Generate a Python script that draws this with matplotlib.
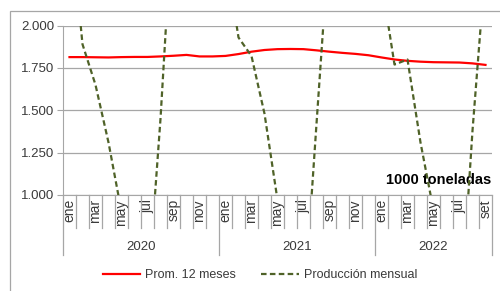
import numpy as np
import matplotlib
matplotlib.use('Agg')
import matplotlib.pyplot as plt
from matplotlib import transforms
from matplotlib.patches import Rectangle

# datos (ene 2020 - set 2022), miles de toneladas
meses = ['ene', 'feb', 'mar', 'abr', 'may', 'jun', 'jul', 'ago', 'sep', 'oct', 'nov', 'dic',
         'ene', 'feb', 'mar', 'abr', 'may', 'jun', 'jul', 'ago', 'sep', 'oct', 'nov', 'dic',
         'ene', 'feb', 'mar', 'abr', 'may', 'jun', 'jul', 'ago', 'set']
anios = ['2020', '2021', '2022']
meses_por_anio = [12, 12, 9]

prom12 = [1.814, 1.814, 1.813, 1.812, 1.814, 1.815, 1.815, 1.818, 1.822, 1.827, 1.818, 1.818,
          1.821, 1.832, 1.846, 1.856, 1.861, 1.862, 1.861, 1.854, 1.846, 1.839, 1.833, 1.825,
          1.812, 1.800, 1.792, 1.787, 1.784, 1.783, 1.782, 1.777, 1.768]

prod_mensual = [2.69, 1.89, 1.65, 1.31, 0.90, 0.55, 0.39, 1.45, 2.75, 2.95, 3.00, 2.80,
                2.42, 1.93, 1.82, 1.48, 0.97, 0.50, 0.29, 1.42, 2.53, 2.90, 2.95, 2.70,
                2.26, 1.77, 1.80, 1.31, 0.91, 0.50, 0.20, 1.38, 2.36]

plt.rcParams['font.family'] = ['Liberation Sans', 'DejaVu Sans']
gris = '#a6a6a6'
texto = '#3a3a3a'

fig = plt.figure(figsize=(5, 2.91), dpi=100)
ax = fig.add_axes([0.126, 0.330, 0.858, 0.582])

x = np.arange(len(meses))
ax.plot(x, prom12, color='#ff0000', lw=1.6, label='Prom. 12 meses', zorder=3)
ax.plot(x, prod_mensual, color='#4f6228', lw=1.6, ls=(0, (2.5, 1.5)),
        label='Producción mensual', zorder=4)

ax.set_xlim(-0.5, len(meses) - 0.5)
ax.set_ylim(1.0, 2.0)
ax.set_yticks([1.0, 1.25, 1.5, 1.75, 2.0])
ax.set_yticklabels(['%.3f' % v for v in [1.0, 1.25, 1.5, 1.75, 2.0]])
ax.yaxis.grid(True, color=gris, lw=0.9)
ax.set_axisbelow(True)
for s in ['top', 'right']:
    ax.spines[s].set_visible(False)
ax.spines['left'].set_color(gris)
ax.spines['bottom'].set_color(gris)
ax.tick_params(axis='y', length=4, color=gris, labelsize=9.5, labelcolor=texto, pad=2)

# etiquetas de mes (una si, una no)
ax.set_xticks(x[::2])
ax.set_xticklabels([meses[i] for i in x[::2]], rotation=90)
ax.tick_params(axis='x', length=0, labelsize=10, labelcolor=texto, pad=3)

# separadores de meses y de anios
trans = transforms.blended_transform_factory(ax.transData, ax.transAxes)
limites = np.cumsum([0] + meses_por_anio) - 0.5
for b in np.arange(-0.5, len(meses), 1.0):
    largo = 0.354 if b in limites else 0.195
    ax.plot([b, b], [0, -largo], color=gris, lw=0.9, transform=trans, clip_on=False)

for k, anio in enumerate(anios):
    centro = (limites[k] + limites[k + 1]) / 2
    ax.text(centro, -0.307, anio, transform=trans, ha='center', va='center',
            fontsize=9.5, color=texto)

ax.text(32.45, 1.089, '1000 toneladas', ha='right', va='center',
        fontsize=10.5, fontweight='bold', color='black')

fig.legend(loc='center', bbox_to_anchor=(0.52, 0.055), ncol=2, frameon=False,
           fontsize=9, handlelength=3.0, columnspacing=2.0, handletextpad=0.4,
           labelcolor=texto)

# marco del grafico
fig.patches.append(Rectangle((0.02, -0.1), 1.2, 1.062, transform=fig.transFigure,
                             fill=False, ec=gris, lw=0.9))

fig.savefig('out.png', dpi=100)
